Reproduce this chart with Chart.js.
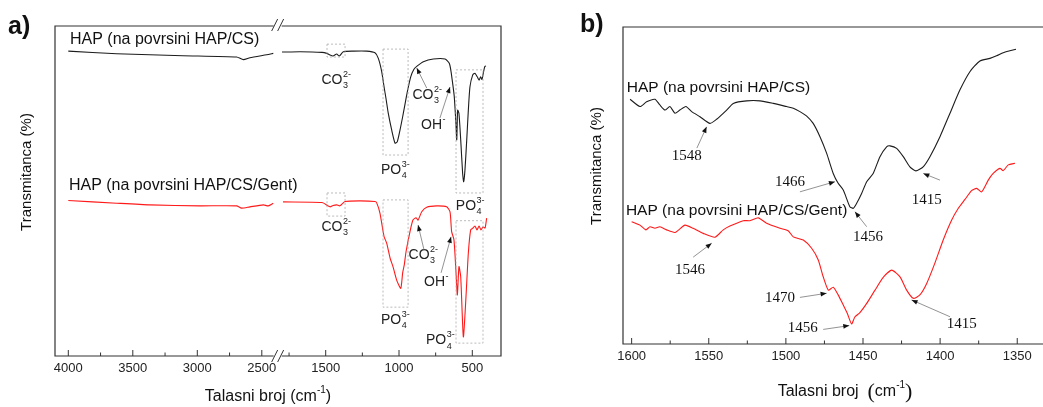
<!DOCTYPE html>
<html>
<head>
<meta charset="utf-8">
<script src="https://cdn.jsdelivr.net/npm/chart.js@4/dist/chart.umd.min.js"></script>
<style>
html, body { margin: 0; padding: 0; background: #fff; overflow: hidden; }
#wrapA { position: absolute; left: 0; top: 0; width: 540px; height: 407px; }
#wrapB { position: absolute; left: 540px; top: 0; width: 503px; height: 407px; }
</style>
</head>
<body>
<div id="wrapA"><canvas id="chartA" width="540" height="407"></canvas></div>
<div id="wrapB"><canvas id="chartB" width="503" height="407"></canvas></div>
<script>
// ---- podaci (talasni broj u cm-1, transmitanca u proizvoljnim jedinicama) ----
const seriesNames = ['HAP (na povrsini HAP/CS)', 'HAP (na povrsini HAP/CS/Gent)'];

// panel a, HAP/CS: deo 4000-2400 i deo 1800-400
const wnCsLeft = [4000, 3625, 3111, 2695, 2643, 2592, 2462, 2411];
const tCsLeft = [92.4, 91.6, 91.0, 90.6, 89.8, 90.4, 91.3, 91.7];
const wnCsRight = [1798, 1675, 1525, 1493, 1471, 1450, 1425, 1407, 1380, 1312, 1220, 1164, 1141, 1118, 1102, 1089, 1073, 1050, 1027, 1012, 993, 975, 964, 943, 920, 898, 875, 834, 766, 686, 657, 645, 634, 623, 613, 606, 600, 591, 579, 566, 559, 550, 538, 527, 516, 497, 482, 466, 454, 443, 434, 425, 415, 407];
const tCsRight = [92.1, 92.2, 92.0, 91.7, 91.2, 90.9, 91.5, 90.9, 92.2, 92.4, 92.4, 91.9, 90.2, 86.2, 81.6, 78.1, 73.5, 68.5, 64.5, 64.9, 68.5, 72.5, 75.1, 80.1, 84.6, 86.9, 87.9, 89.2, 90.0, 90.0, 88.7, 86.2, 82.6, 78.6, 71.5, 65.5, 74.5, 73.5, 65.5, 55.4, 52.8, 56.4, 65.5, 74.5, 81.6, 85.2, 85.7, 84.6, 83.6, 84.6, 83.8, 85.7, 87.7, 87.9];

// panel a, HAP/CS/Gent
const wnGentLeft = [4000, 3625, 3367, 2979, 2695, 2657, 2592, 2489, 2450, 2411];
const tGentLeft = [47.1, 46.3, 45.8, 45.5, 45.5, 44.8, 45.2, 45.8, 45.5, 46.3];
const wnGentRight = [1791, 1525, 1471, 1450, 1425, 1403, 1368, 1266, 1164, 1152, 1130, 1102, 1084, 1061, 1041, 1016, 988, 975, 964, 952, 925, 905, 884, 870, 845, 811, 743, 675, 652, 641, 625, 611, 602, 591, 579, 561, 543, 527, 511, 497, 482, 468, 454, 441, 427, 413, 402];
const tGentRight = [46.7, 46.5, 45.2, 45.6, 45.8, 45.5, 46.8, 47.0, 46.8, 46.4, 43.3, 36.2, 34.2, 29.7, 27.1, 23.0, 20.5, 25.2, 27.6, 31.6, 37.7, 41.2, 41.9, 41.2, 43.7, 45.1, 45.5, 45.2, 43.7, 37.7, 35.2, 25.2, 18.5, 27.1, 24.0, 5.8, 18.0, 31.2, 38.2, 38.7, 39.4, 38.2, 39.4, 38.2, 39.1, 38.8, 41.8];

// panel b, uvecan deo 1600-1350
const wnBCs = [1601, 1594.6, 1590.3, 1584.9, 1581.7, 1578.4, 1575.2, 1571.9, 1568.7, 1564.8, 1561.1, 1555.7, 1549.2, 1544.9, 1538.4, 1534.1, 1525.4, 1516.8, 1508.2, 1499.5, 1495.2, 1490.9, 1486.5, 1482.3, 1477.9, 1473.6, 1469.3, 1466.1, 1462.8, 1461.1, 1458.5, 1456.3, 1454.1, 1450.9, 1447.6, 1443.4, 1439.0, 1434.7, 1432.5, 1428.2, 1423.9, 1419.6, 1415.7, 1411.0, 1406.6, 1400.1, 1393.6, 1387.2, 1380.7, 1374.2, 1367.7, 1363.4, 1359.1, 1354.8, 1350.8];
const tBCs = [77.2, 74.9, 76.4, 77.2, 75.4, 73.8, 74.9, 72.8, 73.8, 74.9, 73.3, 71.7, 69.6, 70.9, 73.8, 75.9, 76.7, 76.7, 75.9, 74.9, 74.4, 73.3, 71.9, 69.6, 65.4, 60.2, 53.8, 50.7, 48.6, 46.5, 43.3, 42.8, 44.4, 47.5, 51.2, 53.8, 59.1, 62.2, 62.5, 61.7, 59.1, 55.9, 54.6, 55.9, 59.1, 65.4, 72.8, 80.1, 85.9, 89.3, 90.1, 90.9, 91.9, 92.5, 93.0];
const wnBGent = [1600, 1594.6, 1590.7, 1588.1, 1584.9, 1581.7, 1577.3, 1571.9, 1565.4, 1560.1, 1553.6, 1546.0, 1540.6, 1536.3, 1527.6, 1523.3, 1517.9, 1512.5, 1503.8, 1498.5, 1495.2, 1488.7, 1483.3, 1479.0, 1475.8, 1472.5, 1469.3, 1466.1, 1462.8, 1460.2, 1457.4, 1455.2, 1452.0, 1447.6, 1442.2, 1436.9, 1431.4, 1426.0, 1421.7, 1417.4, 1413.1, 1408.7, 1403.4, 1398.0, 1392.5, 1388.2, 1383.9, 1379.6, 1376.3, 1373.1, 1368.8, 1365.6, 1361.2, 1359.1, 1355.8, 1351.5];
const tBGent = [38.6, 37.5, 36.0, 37.0, 36.5, 37.0, 36.0, 35.2, 37.5, 36.5, 34.9, 33.7, 36.0, 37.2, 38.9, 38.9, 39.8, 38.1, 36.5, 35.7, 33.8, 32.8, 30.2, 26.5, 21.2, 17.0, 17.9, 15.5, 12.3, 9.7, 6.3, 8.6, 9.9, 12.8, 17.0, 21.0, 23.3, 21.2, 17.0, 14.4, 15.5, 19.1, 25.5, 32.8, 39.1, 42.8, 45.6, 48.4, 49.1, 48.0, 51.7, 53.8, 55.4, 54.7, 56.5, 57.0];

// tikovi
const majorTicksA = [4000, 3500, 3000, 2500, 1500, 1000, 500];
const minorTicksA = [3750, 3250, 2750, 1750, 1250, 750];
const majorTicksB = [1600, 1550, 1500, 1450, 1400, 1350];
const minorTicksB = [1575, 1525, 1475, 1425, 1375];

// oznake pikova u panelu b
const peakLabelsB = ['1548', '1466', '1456', '1415', '1546', '1470', '1456', '1415'];

const SANS = '"Liberation Sans", Arial, sans-serif';
const SERIF = '"Liberation Serif", "Times New Roman", serif';
const BLACK = '#1c1c1c';
const RED = '#ff1a1a';

// x osa panela a je prekinuta: 4000..2370 levo, 1805..300 desno
function axisA(wn) {
    return wn > 2000 ? 13.3 + (4000 - wn) * 0.129 : 234.05 + (1750 - wn) * 0.1466;
}

function pts(xs, ys, fx) {
    return xs.map((v, i) => ({ x: fx ? fx(v) : v, y: ys[i] }));
}

function lineSet(data, color) {
    return { data, borderColor: color, borderWidth: 1.1, pointRadius: 0, tension: 0.2, fill: false };
}

// ---- pomocne funkcije za crtanje ----
function text(ctx, str, x, y, font, align) {
    ctx.font = font;
    ctx.textAlign = align || 'left';
    ctx.textBaseline = 'middle';
    ctx.fillText(str, x, y);
}

// hemijska formula: osnova + indeks ispod + naboj iznad (npr. CO3 2-)
function chem(ctx, x, y, base, sub, sup, size) {
    ctx.textBaseline = 'middle';
    ctx.textAlign = 'left';
    ctx.font = size + 'px ' + SANS;
    const wb = ctx.measureText(base).width;
    const small = Math.round(size * 0.62) + 'px ' + SANS;
    ctx.font = small;
    const ws = Math.max(ctx.measureText(sub).width, ctx.measureText(sup).width);
    const x0 = x - (wb + ws) / 2;
    ctx.font = size + 'px ' + SANS;
    ctx.fillText(base, x0, y);
    ctx.font = small;
    ctx.fillText(sup, x0 + wb + 0.5, y - size * 0.38);
    ctx.fillText(sub, x0 + wb + 0.5, y + size * 0.42);
}

function arrow(ctx, x1, y1, x2, y2) {
    ctx.strokeStyle = '#777';
    ctx.lineWidth = 0.8;
    ctx.beginPath(); ctx.moveTo(x1, y1); ctx.lineTo(x2, y2); ctx.stroke();
    const ang = Math.atan2(y2 - y1, x2 - x1), L = 6, W = 2.4;
    ctx.fillStyle = '#111';
    ctx.beginPath();
    ctx.moveTo(x2, y2);
    ctx.lineTo(x2 - L * Math.cos(ang) + W * Math.sin(ang), y2 - L * Math.sin(ang) - W * Math.cos(ang));
    ctx.lineTo(x2 - L * Math.cos(ang) - W * Math.sin(ang), y2 - L * Math.sin(ang) + W * Math.cos(ang));
    ctx.closePath(); ctx.fill();
}

function dashBox(ctx, x1, y1, x2, y2) {
    ctx.save();
    ctx.strokeStyle = '#aaa';
    ctx.lineWidth = 0.8;
    ctx.setLineDash([2, 2]);
    ctx.strokeRect(x1, y1, x2 - x1, y2 - y1);
    ctx.restore();
}

function xTitle(ctx, cx, cy, bigParens) {
    ctx.fillStyle = '#111';
    const f = '16px ' + SANS, fs = '10px ' + SANS;
    const pf = bigParens ? '22px ' + SERIF : f;
    const parts = [['Talasni broj ' + (bigParens ? ' ' : ''), f, 0], ['(', pf, 0], ['cm', f, 0], ['-1', fs, -7], [')', pf, 0]];
    let w = 0;
    parts.forEach(p => { ctx.font = p[1]; w += ctx.measureText(p[0]).width; });
    let x = cx - w / 2;
    ctx.textBaseline = 'middle'; ctx.textAlign = 'left';
    parts.forEach(p => { ctx.font = p[1]; ctx.fillText(p[0], x, cy + p[2]); x += ctx.measureText(p[0]).width; });
}

function yTitle(ctx, cx, cy) {
    ctx.save();
    ctx.translate(cx, cy);
    ctx.rotate(-Math.PI / 2);
    ctx.fillStyle = '#111';
    text(ctx, 'Transmitanca (%)', 0, 0, '15px ' + SANS, 'center');
    ctx.restore();
}

function tickMarks(ctx, xs, list, bottom, len) {
    ctx.beginPath();
    list.forEach(v => { const p = xs(v); ctx.moveTo(p, bottom); ctx.lineTo(p, bottom - len); });
    ctx.stroke();
}

// ---- panel a ----
const decorA = {
    id: 'decorA',
    afterDraw(chart) {
        const { ctx, chartArea: a, scales: { x, y } } = chart;
        const px = wn => x.getPixelForValue(axisA(wn));
        const py = t => y.getPixelForValue(t);
        ctx.save();
        ctx.strokeStyle = '#333';
        ctx.lineWidth = 1.2;
        const c = (px(2411) + px(1798)) / 2;
        ctx.beginPath();
        ctx.moveTo(c - 4, a.top); ctx.lineTo(a.left, a.top); ctx.lineTo(a.left, a.bottom); ctx.lineTo(c - 4, a.bottom);
        ctx.moveTo(c + 4, a.top); ctx.lineTo(a.right, a.top); ctx.lineTo(a.right, a.bottom); ctx.lineTo(c + 4, a.bottom);
        ctx.stroke();
        ctx.lineWidth = 1;
        tickMarks(ctx, px, majorTicksA, a.bottom, 6);
        tickMarks(ctx, px, minorTicksA, a.bottom, 3.5);
        // oznaka prekida ose
        ctx.beginPath();
        [a.top - 1, a.bottom].forEach(yy => {
            [c - 3, c + 3].forEach(s => { ctx.moveTo(s - 3, yy + 6); ctx.lineTo(s + 3, yy - 6); });
        });
        ctx.stroke();

        // isprekidani pravougaonici oko traka
        dashBox(ctx, px(1491), py(94.5), px(1368), py(90.6));
        dashBox(ctx, px(1109), py(93.0), px(938), py(60.9));
        dashBox(ctx, px(611), py(86.7), px(427), py(49.4));
        dashBox(ctx, px(1491), py(49.4), px(1368), py(42.4));
        dashBox(ctx, px(1109), py(47.3), px(938), py(14.8));
        dashBox(ctx, px(611), py(41.0), px(427), py(3.9));

        ctx.fillStyle = '#222';
        chem(ctx, px(1430), py(83.6), 'CO', '3', '2-', 14);
        chem(ctx, px(1027), py(56.4), 'PO', '4', '3-', 14);
        chem(ctx, px(809), py(79.1), 'CO', '3', '2-', 14);
        chem(ctx, px(768), py(70.0), 'OH', '', '-', 14);
        chem(ctx, px(516), py(45.5), 'PO', '4', '3-', 14);
        chem(ctx, px(1430), py(39.1), 'CO', '3', '2-', 14);
        chem(ctx, px(1027), py(10.9), 'PO', '4', '3-', 14);
        chem(ctx, px(836), py(30.6), 'CO', '3', '2-', 14);
        chem(ctx, px(747), py(22.4), 'OH', '', '-', 14);
        chem(ctx, px(720), py(4.8), 'PO', '4', '3-', 14);

        arrow(ctx, px(811), py(81.2), px(879), py(87.3));
        arrow(ctx, px(721), py(72.1), px(652), py(81.5));
        arrow(ctx, px(829), py(32.1), px(870), py(39.7));
        arrow(ctx, px(713), py(25.2), px(645), py(36.1));

        ctx.fillStyle = '#111';
        text(ctx, seriesNames[0], px(3987), py(95.8), '16px ' + SANS);
        text(ctx, seriesNames[1], px(3995), py(51.5), '16px ' + SANS);

        xTitle(ctx, 268, 397, false);
        yTitle(ctx, 27, 172);
        text(ctx, 'a)', 8, 27, 'bold 25px ' + SANS);
        ctx.restore();
    }
};

const dataA = [
    lineSet(pts(wnCsLeft, tCsLeft, axisA), BLACK),
    lineSet(pts(wnCsRight, tCsRight, axisA), BLACK),
    lineSet(pts(wnGentLeft, tGentLeft, axisA), RED),
    lineSet(pts(wnGentRight, tGentRight, axisA), RED)
];

new Chart(document.getElementById('chartA'), {
    type: 'line',
    data: { datasets: dataA },
    options: {
        responsive: false,
        animation: false,
        layout: { padding: { left: 55, right: 39, top: 26, bottom: 0 } },
        plugins: { legend: { display: false }, tooltip: { enabled: false } },
        scales: {
            x: {
                type: 'linear', min: 0, max: 446,
                grid: { display: false, drawTicks: false },
                border: { display: false },
                afterBuildTicks: s => { s.ticks = majorTicksA.map(v => ({ value: axisA(v) })); },
                afterFit: s => { s.height = 51; },
                ticks: {
                    autoSkip: false, maxRotation: 0, padding: 5, color: '#222',
                    font: { size: 13, family: SANS },
                    callback: (v, i) => majorTicksA[i]
                }
            },
            y: { display: false, min: 0, max: 100 }
        }
    },
    plugins: [decorA]
});

// ---- panel b ----
const decorB = {
    id: 'decorB',
    afterDraw(chart) {
        const { ctx, chartArea: a, scales: { x, y } } = chart;
        const px = wn => x.getPixelForValue(wn);
        const py = t => y.getPixelForValue(t);
        ctx.save();
        ctx.strokeStyle = '#333';
        ctx.lineWidth = 1.2;
        ctx.beginPath();
        ctx.moveTo(a.right + 2, a.top); ctx.lineTo(a.left, a.top); ctx.lineTo(a.left, a.bottom); ctx.lineTo(a.right + 2, a.bottom);
        ctx.stroke();
        ctx.lineWidth = 1;
        tickMarks(ctx, px, majorTicksB, a.bottom, 6);
        tickMarks(ctx, px, minorTicksB, a.bottom, 3.5);

        ctx.fillStyle = '#111';
        const nf = '15px ' + SERIF;
        const lab = [
            [1564.3, 59.4, 1557.7, 61.8, 1551.4, 68.5],
            [1497.4, 51.2, 1490.9, 48.0, 1468.2, 51.2],
            [1446.8, 33.8, 1447.6, 37.0, 1455.2, 41.7],
            [1408.7, 45.4, 1400.1, 51.7, 1410.9, 53.8],
            [1562.2, 23.3, 1560.1, 27.4, 1548.1, 31.8],
            [1503.8, 14.4, 1490.9, 14.7, 1473.6, 16.0],
            [1489.1, 5.0, 1475.8, 4.6, 1458.9, 5.8],
            [1386.0, 6.3, 1393.6, 8.6, 1418.5, 13.9]
        ];
        lab.forEach((l, i) => {
            ctx.fillStyle = '#111';
            text(ctx, peakLabelsB[i], px(l[0]), py(l[1]), nf, 'center');
            arrow(ctx, px(l[2]), py(l[3]), px(l[4]), py(l[5]));
        });

        ctx.fillStyle = '#111';
        text(ctx, seriesNames[0], px(1603.2), py(80.8), '15.5px ' + SANS);
        text(ctx, seriesNames[1], px(1603.7), py(42.0), '15.5px ' + SANS);

        xTitle(ctx, 305, 392, true);
        yTitle(ctx, 57, 166);
        text(ctx, 'b)', 40, 25, 'bold 25px ' + SANS);
        ctx.restore();
    }
};

new Chart(document.getElementById('chartB'), {
    type: 'line',
    data: {
        datasets: [
            lineSet(pts(wnBCs, tBCs), BLACK),
            lineSet(pts(wnBGent, tBGent), RED)
        ]
    },
    options: {
        responsive: false,
        animation: false,
        layout: { padding: { left: 83, right: 0, top: 27, bottom: 0 } },
        plugins: { legend: { display: false }, tooltip: { enabled: false } },
        scales: {
            x: {
                type: 'linear', reverse: true, min: 1333.3, max: 1605.6,
                grid: { display: false, drawTicks: false },
                border: { display: false },
                afterBuildTicks: s => { s.ticks = majorTicksB.map(v => ({ value: v })); },
                afterFit: s => { s.height = 63; },
                ticks: {
                    autoSkip: false, maxRotation: 0, padding: 5, color: '#222',
                    font: { size: 13, family: SANS },
                    callback: v => String(v)
                }
            },
            y: { display: false, min: 0, max: 100 }
        }
    },
    plugins: [decorB]
});
</script>
</body>
</html>
